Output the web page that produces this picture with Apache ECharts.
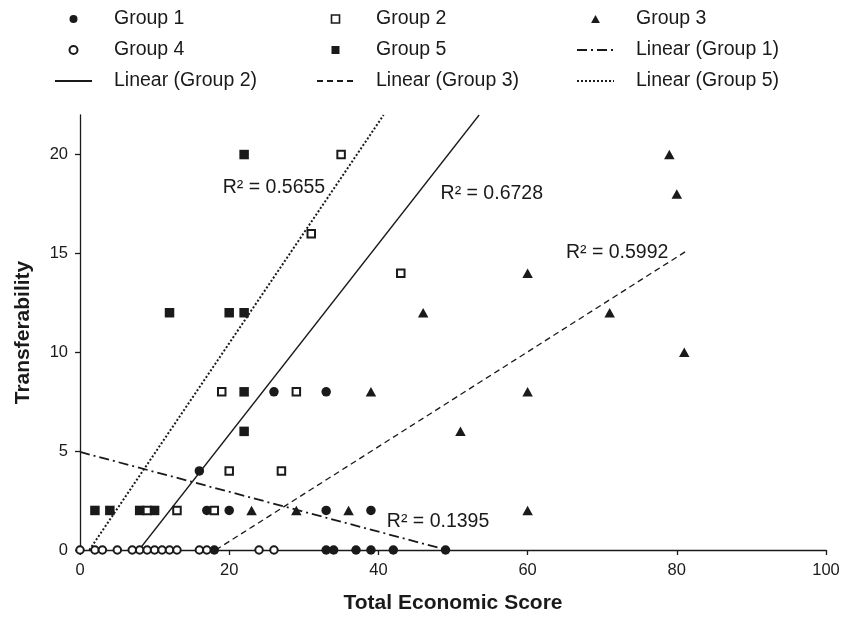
<!DOCTYPE html>
<html>
<head>
<meta charset="utf-8">
<script src="https://cdn.jsdelivr.net/npm/echarts@6/dist/echarts.min.js"></script>
<style>html,body{margin:0;padding:0;background:#fff}#c{width:841px;height:619px}</style>
</head>
<body>
<div id="c"></div>
<script>
// ---- data ----
const group1 = [[18,0],[33,0],[34,0],[37,0],[39,0],[42,0],[49,0],[17,2],[20,2],[33,2],[39,2],[16,4],[26,8],[33,8]];
const group2 = [[9,2],[13,2],[18,2],[20,4],[27,4],[19,8],[29,8],[43,14],[31,16],[35,20]];
const group3 = [[23,2],[29,2],[36,2],[60,2],[51,6],[39,8],[60,8],[81,10],[46,12],[71,12],[60,14],[80,18],[79,20]];
const group4 = [[0,0],[2,0],[3,0],[5,0],[7,0],[8,0],[9,0],[10,0],[11,0],[12,0],[13,0],[16,0],[17,0],[24,0],[26,0]];
const group5 = [[2,2],[4,2],[8,2],[10,2],[22,6],[22,8],[12,12],[20,12],[22,12],[22,20]];
// trend lines (end points, in data units)
const trend1 = [[0,4.96],[49.2,0]];
const trend2 = [[7.9,0],[53.5,22]];
const trend3 = [[18.2,0],[81.2,15.1]];
const trend5 = [[1.25,0],[40.7,22]];
const r2Text = {g1:'R² = 0.1395', g2:'R² = 0.6728', g3:'R² = 0.5992', g5:'R² = 0.5655'};
const xTicks = [0,20,40,60,80,100];
const yTicks = [0,5,10,15,20];
const seriesNames = ['Group 1','Group 2','Group 3','Group 4','Group 5','Linear (Group 1)','Linear (Group 2)','Linear (Group 3)','Linear (Group 5)'];

// ---- styling ----
const FONT = '"Liberation Sans", Arial, Helvetica, sans-serif';
const INK = '#1a1a1a';
const SQUARE = 'path://M0,0L10,0L10,10L0,10Z';
const TRI = 'path://M5,0L10,9L0,9Z';
const chart = echarts.init(document.getElementById('c'), null, {renderer:'canvas'});

function r2Point(coord, text){
  return {
    symbol:'circle', symbolSize:0, silent:true, animation:false,
    label:{show:true, position:'inside', formatter:text, fontSize:19.5, color:INK, fontFamily:FONT},
    data:[{coord:coord}]
  };
}
function trend(name, data, type, width, r2){
  return {
    name:name, type:'line', data:data, symbol:'none', silent:true, clip:true, z:2,
    lineStyle:{color:INK, width:width, type:type, opacity:1},
    itemStyle:{color:'rgba(0,0,0,0)', borderWidth:0},
    markPoint:r2
  };
}
function scatter(name, data, symbol, size, filled){
  return {
    name:name, type:'scatter', data:data, symbol:symbol, symbolSize:size, z:3, silent:true,
    itemStyle: filled ? {color:INK, opacity:1} : {color:'#fff', borderColor:INK, borderWidth:2, opacity:1}
  };
}
const legendBase = {
  orient:'vertical', padding:0, itemGap:11, itemWidth:37, itemHeight:8, top:9,
  selectedMode:false, symbolKeepAspect:true,
  textStyle:{fontSize:19.5, color:INK, fontFamily:FONT, padding:[0,0,0,17]}
};

const option = {
  animation:false,
  backgroundColor:'#fff',
  textStyle:{fontFamily:FONT},
  grid:{left:80, right:15, top:115, bottom:69, containLabel:false, outerBoundsMode:'none'},
  legend:[
    Object.assign({}, legendBase, {left:54, data:[
      {name:seriesNames[0]}, {name:seriesNames[3]}, {name:seriesNames[6]}]}),
    Object.assign({}, legendBase, {left:316, data:[
      {name:seriesNames[1], icon:SQUARE, itemStyle:{borderWidth:1.6}}, {name:seriesNames[4], icon:SQUARE}, {name:seriesNames[7]}]}),
    Object.assign({}, legendBase, {left:576, data:[
      {name:seriesNames[2], icon:TRI}, {name:seriesNames[5]}, {name:seriesNames[8]}]})
  ],
  xAxis:{
    type:'value', min:0, max:100, interval:20,
    name:'Total Economic Score', nameLocation:'middle', nameGap:43,
    nameTextStyle:{fontSize:21, fontWeight:'bold', color:INK, fontFamily:FONT},
    axisLine:{show:true, onZero:false, lineStyle:{color:INK, width:1.3}},
    axisTick:{show:true, length:5, customValues:xTicks, lineStyle:{color:INK, width:1.3}},
    axisLabel:{customValues:xTicks, fontSize:16.5, color:INK, margin:12, fontFamily:FONT},
    splitLine:{show:false}
  },
  yAxis:{
    type:'value', min:0, max:22, interval:5,
    name:'Transferability', nameLocation:'middle', nameGap:46, nameRotate:90,
    nameTextStyle:{fontSize:21, fontWeight:'bold', color:INK, fontFamily:FONT},
    axisLine:{show:true, onZero:false, lineStyle:{color:INK, width:1.3}},
    axisTick:{show:true, length:5, customValues:yTicks, lineStyle:{color:INK, width:1.3}},
    axisLabel:{customValues:yTicks, fontSize:16.5, color:INK, margin:12, fontFamily:FONT},
    splitLine:{show:false}
  },
  series:[
    trend(seriesNames[5], trend1, [10,4,2,4], 1.8, r2Point([48.0,1.44], r2Text.g1)),
    trend(seriesNames[6], trend2, 'solid', 1.3, r2Point([55.2,18.0], r2Text.g2)),
    trend(seriesNames[7], trend3, [6,4], 1.3, r2Point([72.0,15.05], r2Text.g3)),
    trend(seriesNames[8], trend5, [2,2], 2, r2Point([26.0,18.33], r2Text.g5)),
    scatter(seriesNames[0], group1, 'circle', 9.5, true),
    scatter(seriesNames[1], group2, 'rect', 7.5, false),
    scatter(seriesNames[2], group3, 'triangle', [10.5,9.5], true),
    scatter(seriesNames[3], group4, 'circle', 7.5, false),
    scatter(seriesNames[4], group5, 'rect', 9.5, true)
  ]
};
chart.setOption(option);
</script>
</body>
</html>
